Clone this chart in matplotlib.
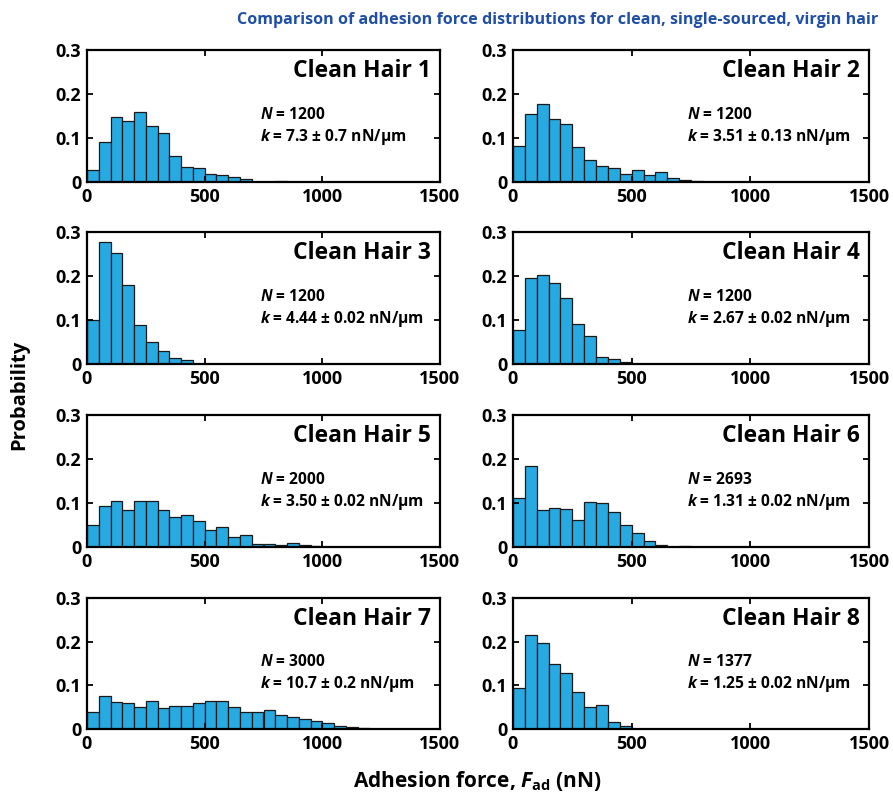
import numpy as np
import matplotlib
matplotlib.use("Agg")
import matplotlib.pyplot as plt

plt.rcParams['font.family'] = ['Open Sans', 'DejaVu Sans']
plt.rcParams['font.weight'] = 'bold'
plt.rcParams['mathtext.fontset'] = 'custom'
plt.rcParams['mathtext.it'] = 'Open Sans:italic:bold'
plt.rcParams['mathtext.rm'] = 'Open Sans:bold'
plt.rcParams['mathtext.bf'] = 'Open Sans:bold'

bin_width = 50
titles = ["Clean Hair 1", "Clean Hair 2", "Clean Hair 3", "Clean Hair 4",
          "Clean Hair 5", "Clean Hair 6", "Clean Hair 7", "Clean Hair 8"]
n_values = [1200, 1200, 1200, 1200, 2000, 2693, 3000, 1377]
k_labels = ["7.3 ± 0.7", "3.51 ± 0.13", "4.44 ± 0.02", "2.67 ± 0.02",
            "3.50 ± 0.02", "1.31 ± 0.02", "10.7 ± 0.2", "1.25 ± 0.02"]

hair1 = [0.028, 0.090, 0.147, 0.138, 0.160, 0.128, 0.112, 0.060, 0.034, 0.031,
         0.018, 0.017, 0.011, 0.006, 0.001, 0.001, 0.003]
hair2 = [0.082, 0.154, 0.178, 0.144, 0.132, 0.080, 0.049, 0.036, 0.031, 0.018,
         0.028, 0.017, 0.022, 0.010, 0.004, 0.003]
hair3 = [0.099, 0.277, 0.252, 0.180, 0.088, 0.049, 0.030, 0.014, 0.008]
hair4 = [0.078, 0.196, 0.203, 0.183, 0.151, 0.090, 0.063, 0.017, 0.012, 0.004]
hair5 = [0.050, 0.094, 0.104, 0.083, 0.105, 0.105, 0.083, 0.068, 0.073, 0.060,
         0.039, 0.046, 0.022, 0.028, 0.007, 0.007, 0.005, 0.008, 0.005, 0.002]
hair6 = [0.111, 0.184, 0.085, 0.088, 0.087, 0.062, 0.102, 0.101, 0.080, 0.050,
         0.032, 0.014, 0.005, 0.001, 0.003]
hair7 = [0.038, 0.076, 0.062, 0.060, 0.051, 0.063, 0.049, 0.053, 0.053, 0.060,
         0.065, 0.065, 0.051, 0.040, 0.039, 0.043, 0.032, 0.027, 0.024, 0.018,
         0.014, 0.008, 0.005, 0.0015, 0.0005]
hair8 = [0.095, 0.216, 0.198, 0.149, 0.129, 0.085, 0.051, 0.055, 0.015, 0.006]
series = [hair1, hair2, hair3, hair4, hair5, hair6, hair7, hair8]

xticks = [0, 500, 1000, 1500]
yticks = [0, 0.1, 0.2, 0.3]
ytick_labels = ["0", "0.1", "0.2", "0.3"]

W, H = 893, 800
fig = plt.figure(figsize=(W / 100, H / 100), dpi=100)

col_x = [(87, 440), (513, 869)]
row_y = [(50, 182), (232, 364), (415, 547), (598, 729)]

bar_color = '#27AAE1'
for i, vals in enumerate(series):
    r, c = divmod(i, 2)
    x0, x1 = col_x[c]
    y0, y1 = row_y[r]
    ax = fig.add_axes([x0 / W, 1 - y1 / H, (x1 - x0) / W, (y1 - y0) / H])
    left = np.arange(len(vals)) * bin_width
    ax.bar(left, vals, width=bin_width, align='edge', color=bar_color,
           edgecolor='#1a1a1a', linewidth=0.9)
    ax.set_xlim(0, 1500)
    ax.set_ylim(0, 0.3)
    ax.set_xticks(xticks)
    ax.set_yticks(yticks)
    ax.set_yticklabels(ytick_labels)
    ax.tick_params(direction='in', length=4, width=1.3, top=True, right=True,
                   labelsize=13, pad=4)
    for lab in ax.get_xticklabels() + ax.get_yticklabels():
        lab.set_fontweight('bold')
    for sp in ax.spines.values():
        sp.set_linewidth(1.6)
    ax.text(0.975, 0.93, titles[i], transform=ax.transAxes, ha='right', va='top',
            fontsize=16.5, fontweight='bold')
    ax.text(0.49, 0.51, f"$N$ = {n_values[i]}", transform=ax.transAxes,
            ha='left', va='center', fontsize=11.2, fontweight='bold')
    ax.text(0.49, 0.34, f"$k$ = {k_labels[i]} nN/μm", transform=ax.transAxes,
            ha='left', va='center', fontsize=11.2, fontweight='bold')

fig.text(0.624, 0.975, "Comparison of adhesion force distributions for clean, single-sourced, virgin hair",
         ha='center', va='center', fontsize=11.6, fontweight='bold', color='#1F4FA8')
fig.text(0.021, 0.506, "Probability", rotation=90, ha='center', va='center',
         fontsize=14.5, fontweight='bold')
fig.text(0.535, 0.024, r"Adhesion force, $F_{\mathrm{ad}}$ (nN)", ha='center', va='center',
         fontsize=15, fontweight='bold')

fig.savefig("out.png", dpi=100)
